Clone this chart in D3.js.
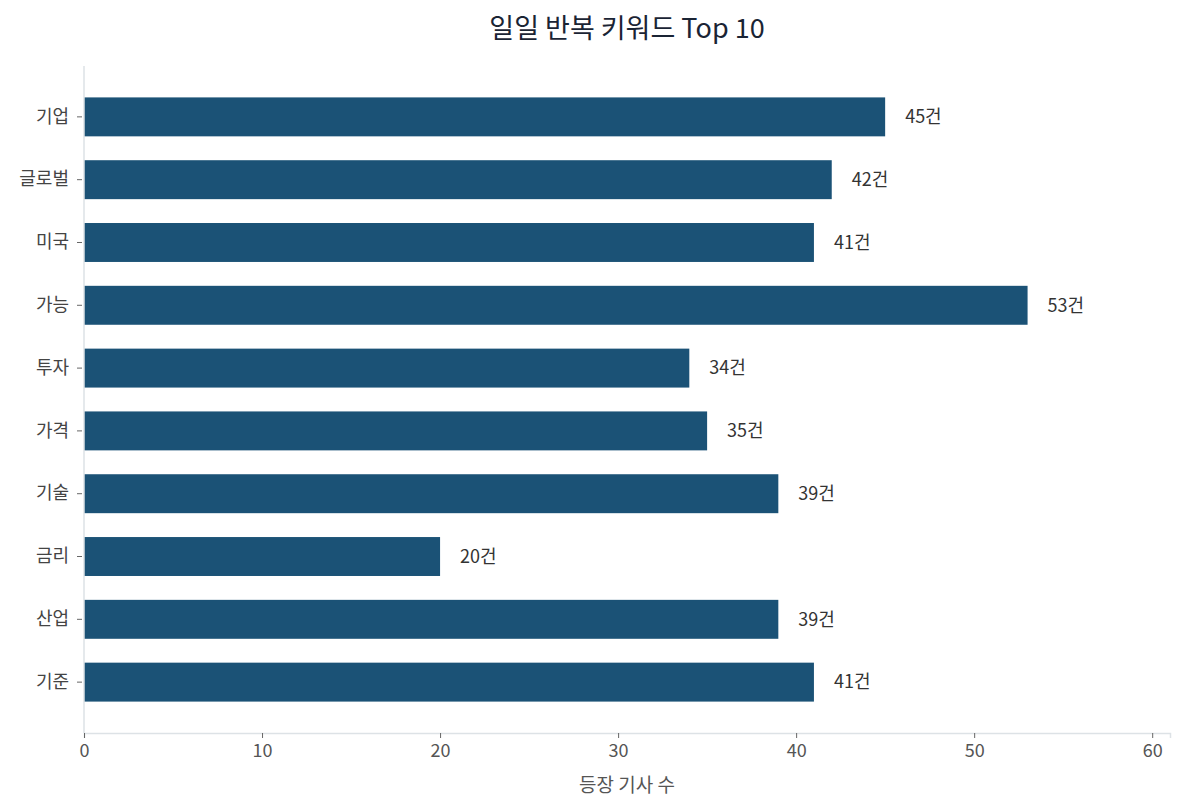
<!DOCTYPE html>
<html><head><meta charset="utf-8">
<script src="https://cdn.jsdelivr.net/npm/d3@7"></script>
<style>body{margin:0;background:#fff;} text{font-family:"Noto Sans CJK KR","Noto Sans",sans-serif;}</style>
</head><body>
<svg id="chart" width="1185" height="809"></svg>
<script>
const categories = ["기업","글로벌","미국","가능","투자","가격","기술","금리","산업","기준"];
const values = [45,42,41,53,34,35,39,20,39,41];
const xTicks = [0,10,20,30,40,50,60];
const title = "일일 반복 키워드 Top 10";
const xLabel = "등장 기사 수";
const unit = "건";

(function(){
const svg = d3.select("#chart");
const mLeft = 84, mRight = 1170, mTop = 66, mBottom = 733;
const FF = '"Noto Sans CJK KR","Noto Sans",sans-serif';

const x = d3.scaleLinear().domain([0, 61]).range([mLeft, mRight]);
const y = d3.scaleBand().domain(categories).range([mTop, mBottom]).paddingInner(0.38).paddingOuter(0.5);

// bars
svg.append("g").selectAll("rect").data(categories).join("rect")
  .attr("x", x(0)).attr("y", d => y(d))
  .attr("width", (d,i) => x(values[i]) - x(0))
  .attr("height", y.bandwidth())
  .attr("fill", "#1b5276");

// value labels
svg.append("g").selectAll("text").data(categories).join("text")
  .attr("x", (d,i) => x(values[i]) + 20)
  .attr("y", d => y(d) + y.bandwidth()/2)
  .attr("dy", "0.35em")
  .attr("font-size", 18).attr("fill", "#333")
  .text((d,i) => values[i] + unit);

// x axis
const xa = svg.append("g").attr("transform", `translate(0,${mBottom})`)
  .call(d3.axisBottom(x).tickValues(xTicks).tickSize(5).tickPadding(6));
xa.select(".domain").attr("stroke", "#dde2e6").attr("stroke-width", 1.5);
xa.selectAll(".tick line").attr("stroke", "#666");
xa.selectAll(".tick text").attr("font-size", 18).attr("fill", "#555").attr("font-family", FF);

// y axis
const ya = svg.append("g").attr("transform", `translate(${mLeft},0)`)
  .call(d3.axisLeft(y).tickSize(5).tickPadding(10));
ya.select(".domain").remove();
svg.append("line").attr("x1", mLeft).attr("x2", mLeft).attr("y1", mTop).attr("y2", mBottom)
  .attr("stroke", "#dde2e6").attr("stroke-width", 1.5);
ya.selectAll(".tick line").attr("stroke", "#666").attr("transform", "translate(-2,0)");
ya.selectAll(".tick text").attr("font-size", 18).attr("fill", "#444").attr("font-family", FF);

// title
svg.append("text").attr("x", (mLeft+mRight)/2).attr("y", 29).attr("dy", "0.35em")
  .attr("text-anchor", "middle").attr("font-size", 27).attr("fill", "#1a2434")
  .text(title);

// x label
svg.append("text").attr("x", (mLeft+mRight)/2).attr("y", 785).attr("dy", "0.35em")
  .attr("text-anchor", "middle").attr("font-size", 19).attr("fill", "#555")
  .text(xLabel);
})();
</script>
</body></html>
